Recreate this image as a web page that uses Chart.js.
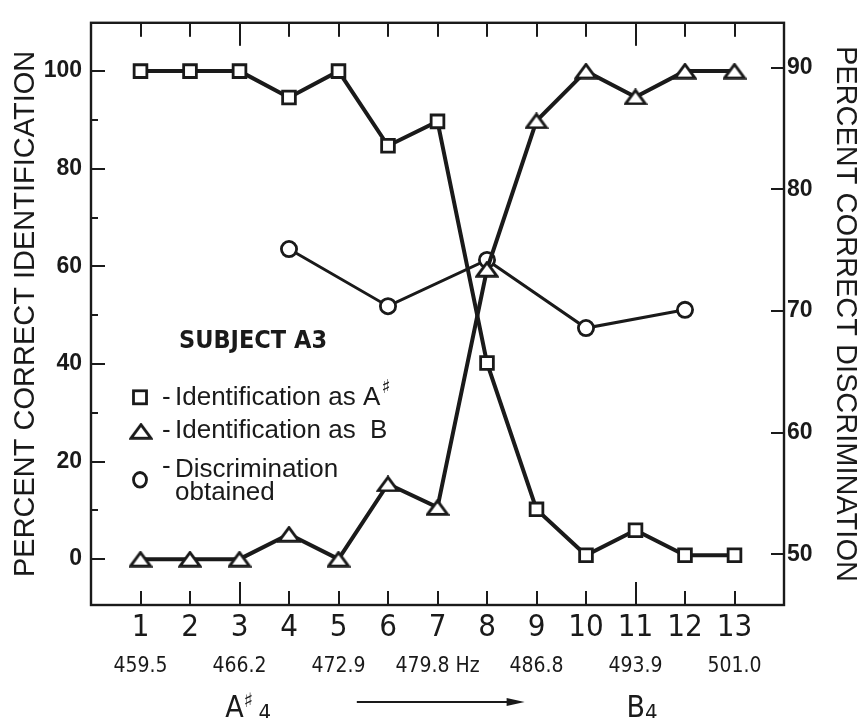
<!DOCTYPE html>
<html>
<head>
<meta charset="utf-8">
<script src="https://cdn.jsdelivr.net/npm/chart.js@4.4.1/dist/chart.umd.min.js"></script>
<style>
    html, body { margin: 0; padding: 0; background: #fff; }
    #wrap { width: 868px; height: 718px; }
</style>
</head>
<body>
<div id="wrap"><canvas id="chart" width="868" height="718"></canvas></div>
<script>
// Stimulus numbers along the bottom axis
let stimuli = [1, 2, 3, 4, 5, 6, 7, 8, 9, 10, 11, 12, 13];

// Percent identified as A# (squares, left axis)
let identA = [100, 100, 100, 94.6, 100, 84.7, 89.7, 40.2, 10.2, 0.8, 5.9, 0.8, 0.8];

// Percent identified as B (triangles, left axis)
let identB = [0, 0, 0, 5.1, 0, 15.4, 10.6, 59.4, 89.8, 100, 94.7, 100, 100];

// Discrimination obtained (circles, right axis), measured at even stimuli only
let discStimuli = [4, 6, 8, 10, 12];
let discValues = [75.1, 70.4, 74.2, 68.6, 70.1];

// Tick labels
let leftTicks = [0, 20, 40, 60, 80, 100];
let leftTickMarks = [0, 10, 20, 30, 40, 50, 60, 70, 80, 90, 100];
let rightTicks = [50, 60, 70, 80, 90];
let longTickStimuli = [3, 11];
let freqStimuli = [1, 3, 5, 7, 9, 11, 13];
let freqLabels = ['459.5', '466.2', '472.9', '479.8 Hz', '486.8', '493.9', '501.0'];

let ink = '#1a1a1a';
let cond = "'DejaVu Sans Condensed', sans-serif";
let plain = "'Liberation Sans', Arial, sans-serif";

// Flat open triangle used as the marker for "Identification as B"
function makeTriangle(w, h) {
    let c = document.createElement('canvas');
    c.width = w;
    c.height = h;
    let g = c.getContext('2d');
    g.lineWidth = 2.8;
    g.lineJoin = 'miter';
    g.strokeStyle = ink;
    g.fillStyle = '#fff';
    g.beginPath();
    g.moveTo(2, h - 1.6);
    g.lineTo(w / 2, 1.8);
    g.lineTo(w - 2, h - 1.6);
    g.closePath();
    g.fill();
    g.stroke();
    return c;
}
let triangleMarker = makeTriangle(24, 17);

// Frame of the plot with inward tick marks on all four sides
let frameTicks = {
    id: 'frameTicks',
    afterDraw(chart) {
        let g = chart.ctx;
        let a = chart.chartArea;
        let sx = chart.scales.x;
        let sy = chart.scales.y;
        let sy2 = chart.scales.y2;

        g.save();
        g.strokeStyle = ink;
        g.fillStyle = ink;
        g.lineWidth = 2.4;
        g.strokeRect(a.left, a.top, a.right - a.left, a.bottom - a.top);

        // Left axis: long marks at labelled values, short ones between
        for (let i = 0; i < leftTickMarks.length; i++) {
            let v = leftTickMarks[i];
            let py = Math.round(sy.getPixelForValue(v));
            let len = leftTicks.indexOf(v) >= 0 ? 14 : 7;
            g.fillRect(a.left, py - 1, len, 2);
        }
        // Right axis
        for (let i = 0; i < rightTicks.length; i++) {
            let py = Math.round(sy2.getPixelForValue(rightTicks[i]));
            g.fillRect(a.right - 13, py - 1, 13, 2);
        }
        // Top and bottom marks at every stimulus
        for (let i = 0; i < stimuli.length; i++) {
            let px = Math.round(sx.getPixelForValue(stimuli[i]));
            let len = longTickStimuli.indexOf(stimuli[i]) >= 0 ? 23 : 14;
            g.fillRect(px - 1, a.top, 2, len);
            g.fillRect(px - 1, a.bottom - len, 2, len);
        }
        g.restore();
    }
};

// Subject title, in-plot legend and the A#4 -> B4 arrow below the axis
let annotations = {
    id: 'annotations',
    afterDraw(chart) {
        let g = chart.ctx;
        let a = chart.chartArea;
        let sx = chart.scales.x;

        g.save();
        g.fillStyle = ink;
        g.strokeStyle = ink;
        g.textBaseline = 'alphabetic';
        g.textAlign = 'left';

        // Subject title
        g.font = "bold 25px " + cond;
        g.fillText('SUBJECT A3', a.left + 88, a.top + 325);

        // Legend markers
        let mx = a.left + 49;
        g.lineWidth = 2.8;
        g.fillStyle = '#fff';
        g.fillRect(mx - 6.5, a.top + 368, 13, 13);
        g.strokeRect(mx - 6.5, a.top + 368, 13, 13);
        g.drawImage(triangleMarker, mx - 11, a.top + 400);
        g.beginPath();
        g.ellipse(mx, a.top + 457, 6.5, 7.3, 0, 0, Math.PI * 2);
        g.fill();
        g.stroke();

        // Legend texts
        g.fillStyle = ink;
        let tx = a.left + 84;
        let dx = mx + 22;
        g.font = "26px " + plain;
        g.fillText('-', dx, a.top + 382);
        g.fillText('Identification as A', tx, a.top + 382);
        let w = g.measureText('Identification as A').width;
        g.font = "bold 19px 'DejaVu Sans', sans-serif";
        g.fillText('\u266F', tx + w + 1, a.top + 370);

        g.font = "26px " + plain;
        g.fillText('-', dx, a.top + 415);
        g.fillText('Identification as  B', tx, a.top + 415);

        g.fillText('-', dx, a.top + 451);
        g.fillText('Discrimination', tx, a.top + 454);
        g.fillText('obtained', tx, a.top + 477);

        // Note names under the frequency row
        let bottomY = chart.height - 1;
        let ax = sx.getPixelForValue(2.71);
        g.font = "30px " + cond;
        g.fillText('A', ax, bottomY);
        let aw = g.measureText('A').width;
        g.font = "bold 20px 'DejaVu Sans', sans-serif";
        g.fillText('\u266F', ax + aw, bottomY - 10);
        g.font = "22px " + cond;
        g.fillText('4', ax + aw + 15, bottomY + 3);

        let bx = sx.getPixelForValue(10.82);
        g.font = "30px " + cond;
        g.fillText('B', bx, bottomY);
        let bw = g.measureText('B').width;
        g.font = "22px " + cond;
        g.fillText('4', bx + bw, bottomY + 3);

        // Arrow from A#4 towards B4
        let x0 = sx.getPixelForValue(5.37);
        let x1 = sx.getPixelForValue(8.76);
        let ay = chart.height - 16;
        g.fillRect(x0, ay - 1, x1 - x0 - 12, 2);
        g.beginPath();
        g.moveTo(x1, ay);
        g.lineTo(x1 - 18, ay - 4);
        g.lineTo(x1 - 18, ay + 4);
        g.closePath();
        g.fill();

        g.restore();
    }
};

// Builds {x, y} points from the stimulus list and a value list
function toPoints(xs, ys) {
    let pts = [];
    for (let i = 0; i < xs.length; i++) {
        pts.push({ x: xs[i], y: ys[i] });
    }
    return pts;
}

let ctx = document.getElementById('chart').getContext('2d');

let myChart = new Chart(ctx, {
    type: 'line',
    data: {
        datasets: [{
            label: 'Identification as A#',
            data: toPoints(stimuli, identA),
            yAxisID: 'y',
            borderColor: ink,
            borderWidth: 4,
            pointStyle: 'rect',
            pointRadius: 9,
            pointBorderWidth: 2.8,
            pointBorderColor: ink,
            pointBackgroundColor: '#fff',
            tension: 0
        }, {
            label: 'Identification as B',
            data: toPoints(stimuli, identB),
            yAxisID: 'y',
            borderColor: ink,
            borderWidth: 4,
            pointStyle: triangleMarker,
            pointRadius: 9,
            tension: 0
        }, {
            label: 'Discrimination obtained',
            data: toPoints(discStimuli, discValues),
            yAxisID: 'y2',
            borderColor: ink,
            borderWidth: 3,
            pointStyle: 'circle',
            pointRadius: 7.6,
            pointBorderWidth: 2.8,
            pointBorderColor: ink,
            pointBackgroundColor: '#fff',
            tension: 0
        }]
    },
    options: {
        responsive: false,
        animation: false,
        events: [],
        layout: { padding: { top: 13, left: 0, right: 0, bottom: 0 } },
        plugins: {
            legend: { display: false },
            tooltip: { enabled: false }
        },
        scales: {
            x: {
                type: 'linear',
                position: 'bottom',
                weight: 0,
                min: 0,
                max: 14,
                grid: { display: false, drawTicks: false },
                border: { display: false },
                afterBuildTicks: function (s) { s.ticks = stimuli.map(v => ({ value: v })); },
                afterFit: function (s) { s.height = 46; },
                ticks: {
                    color: ink,
                    padding: 4,
                    maxRotation: 0,
                    autoSkip: false,
                    font: { family: cond, size: 31 }
                }
            },
            xf: {
                type: 'linear',
                position: 'bottom',
                weight: 1,
                min: 0,
                max: 14,
                grid: { display: false, drawTicks: false },
                border: { display: false },
                afterBuildTicks: function (s) { s.ticks = freqStimuli.map(v => ({ value: v })); },
                afterFit: function (s) { s.height = 67; },
                ticks: {
                    color: ink,
                    padding: 3,
                    maxRotation: 0,
                    autoSkip: false,
                    font: { family: cond, size: 21 },
                    callback: function (value) {
                        return freqLabels[freqStimuli.indexOf(value)];
                    }
                }
            },
            y: {
                type: 'linear',
                position: 'left',
                min: -9.4,
                max: 109.9,
                grid: { display: false, drawTicks: false },
                border: { display: false },
                afterBuildTicks: function (s) { s.ticks = leftTicks.map(v => ({ value: v })); },
                afterFit: function (s) { s.width = 91; },
                ticks: {
                    color: ink,
                    padding: 9,
                    font: { family: plain, size: 23, weight: 'bold' }
                },
                title: {
                    display: true,
                    text: 'PERCENT CORRECT IDENTIFICATION',
                    color: ink,
                    padding: { top: 9, bottom: 0 },
                    font: { family: plain, size: 29 }
                }
            },
            y2: {
                type: 'linear',
                position: 'right',
                min: 45.83,
                max: 93.7,
                grid: { display: false, drawTicks: false },
                border: { display: false },
                afterBuildTicks: function (s) { s.ticks = rightTicks.map(v => ({ value: v })); },
                afterFit: function (s) { s.width = 84; },
                ticks: {
                    color: ink,
                    padding: 3,
                    font: { family: plain, size: 23, weight: 'bold' }
                },
                title: {
                    display: true,
                    text: 'PERCENT CORRECT DISCRIMINATION',
                    color: ink,
                    padding: { top: 6, bottom: 0 },
                    font: { family: plain, size: 29 }
                }
            }
        }
    },
    plugins: [frameTicks, annotations]
});
</script>
</body>
</html>
